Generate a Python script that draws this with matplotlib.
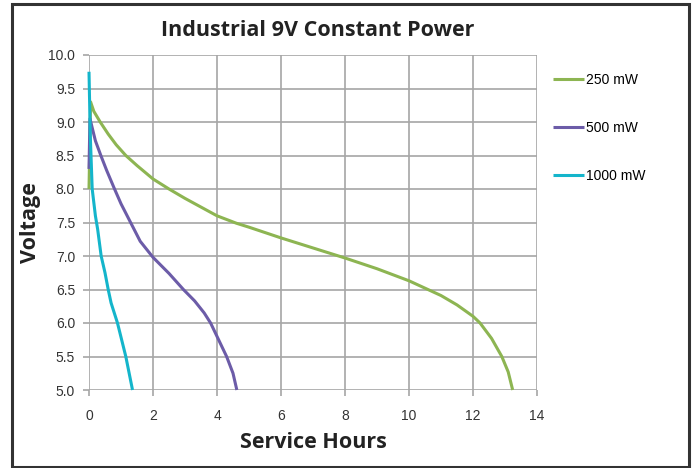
import matplotlib
matplotlib.use("Agg")
import matplotlib.pyplot as plt
from matplotlib.patches import Rectangle

title = "Industrial 9V Constant Power"
xlabel = "Service Hours"
ylabel = "Voltage"
series_labels = ["250 mW", "500 mW", "1000 mW"]
series_colors = ["#8db552", "#6c5ca8", "#14b5cb"]

hours_250 = [0, 0.05, 0.15, 0.35, 0.6, 0.85, 1.15, 1.5, 2, 2.5, 3, 3.5, 4, 4.6, 5, 6, 7, 8, 9, 10,
             11, 11.5, 12, 12.22, 12.58, 12.9, 13.1, 13.24]
volts_250 = [8.0, 9.3, 9.16, 9.0, 8.82, 8.66, 8.5, 8.35, 8.15, 8.0, 7.86, 7.73, 7.6, 7.49, 7.43, 7.27, 7.12, 6.97, 6.81, 6.63,
             6.41, 6.27, 6.1, 6.0, 5.77, 5.5, 5.27, 5.0]

hours_500 = [0, 0.03, 0.2, 0.37, 0.55, 0.78, 1.0, 1.3, 1.6, 2.0, 2.5, 2.95, 3.3, 3.6, 3.8, 4.05, 4.3, 4.5, 4.62]
volts_500 = [8.3, 9.05, 8.72, 8.5, 8.28, 8.02, 7.78, 7.5, 7.22, 6.98, 6.74, 6.5, 6.33, 6.15, 6.0, 5.75, 5.5, 5.25, 5.0]

hours_1000 = [0, 0.04, 0.1, 0.2, 0.27, 0.38, 0.5, 0.6, 0.69, 0.89, 1.15, 1.36]
volts_1000 = [9.75, 8.8, 8.0, 7.6, 7.4, 7.0, 6.75, 6.5, 6.3, 6.0, 5.5, 5.0]

xticks = [0, 2, 4, 6, 8, 10, 12, 14]
yticks = [5.0, 5.5, 6.0, 6.5, 7.0, 7.5, 8.0, 8.5, 9.0, 9.5, 10.0]

plt.rcParams['font.family'] = ['Liberation Sans', 'DejaVu Sans']

fig = plt.figure(figsize=(6.94, 4.68), dpi=100)
ax = fig.add_axes([89/694, 1 - 390/468, (537 - 89)/694, (390 - 55)/468])

series = [(hours_250, volts_250), (hours_500, volts_500), (hours_1000, volts_1000)]
for (h, v), lab, col in zip(series, series_labels, series_colors):
    ax.plot(h, v, color=col, lw=2.2, label=lab, solid_capstyle='butt', solid_joinstyle='round',
            clip_on=False, zorder=3)

ax.set_xlim(0, 14)
ax.set_ylim(5, 10)
ax.set_xticks(xticks)
ax.set_yticks(yticks)
ax.set_xticklabels([str(t) for t in xticks])
ax.set_yticklabels([f"{t:.1f}" for t in yticks])
ax.grid(True, color="#a6a6a6", lw=1.2)
ax.set_axisbelow(True)
for s in ax.spines.values():
    s.set_visible(False)
ax.tick_params(axis='both', colors="#a6a6a6", labelcolor="#333333", labelsize=10, width=1.2)
ax.tick_params(axis='y', length=4.5, pad=5.5)
ax.tick_params(axis='x', length=4, pad=10)

ax.set_xlabel(xlabel, fontsize=15.5, fontweight='bold', family=['Open Sans', 'DejaVu Sans'], color="#222222", labelpad=6)
ax.set_ylabel(ylabel, fontsize=15.5, fontweight='bold', family=['Open Sans', 'DejaVu Sans'], color="#222222", labelpad=5.5)
fig.text(318/694, 1 - 30/468, title, fontsize=15.5, fontweight='bold', family=['Open Sans', 'DejaVu Sans'],
         color="#222222", ha='center', va='center')

fig.legend(loc='upper left', bbox_to_anchor=(553/694, 1 - 73/468), frameon=False, fontsize=10,
           handlelength=2.2, handletextpad=0.15, labelspacing=2.45, borderaxespad=0, borderpad=0)

fig.patches.append(Rectangle((11.5/694, 1.5/468), (689 - 11.5)/694, (466 - 3)/468, transform=fig.transFigure,
                             fill=False, edgecolor="#333333", lw=2.2))

fig.savefig("out.png", dpi=100)
